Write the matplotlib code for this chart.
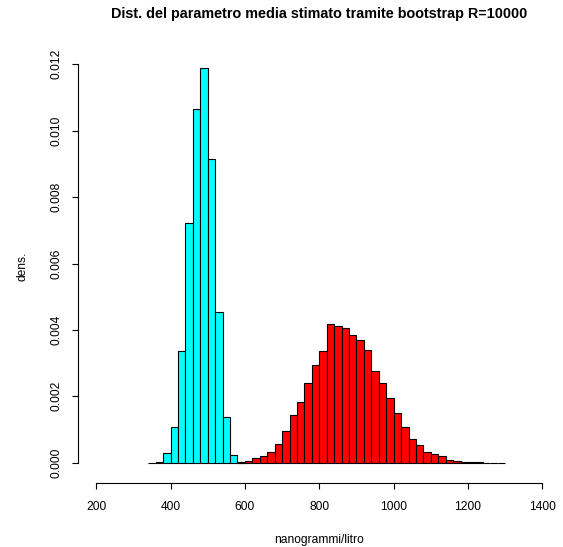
"""
Bootstrap distribution of the mean (R=10000), two samples, R base-graphics look.
"""

import numpy as np
import matplotlib.pyplot as plt


# bins are 20 units wide, left edges given by *_start
cyan_start = 340
cyan_dens = [0.00000, 0.00003, 0.00029, 0.00107, 0.00337, 0.00723, 0.01066,
             0.01190, 0.00915, 0.00453, 0.00139, 0.00023, 0.00002]

red_start = 580
red_dens = [0.00002, 0.00005, 0.00015, 0.00021, 0.00033, 0.00057, 0.00096,
            0.00145, 0.00184, 0.00241, 0.00295, 0.00337, 0.00419, 0.00412,
            0.00406, 0.00386, 0.00370, 0.00340, 0.00277, 0.00241, 0.00196,
            0.00149, 0.00109, 0.00071, 0.00054, 0.00033, 0.00026, 0.00021,
            0.00008, 0.00006, 0.00003, 0.00003, 0.00002, 0.0, 0.0, 0.0]
bin_w = 20

x_ticks = [200, 400, 600, 800, 1000, 1200, 1400]
y_ticks = [0.000, 0.002, 0.004, 0.006, 0.008, 0.010, 0.012]

W, H = 563, 547
FS = 8.64  # 12 px at 100 dpi


def px(x0, y0, x1, y1):
    """figure-pixel box (top-left origin) -> axes rect."""
    return [x0 / W, 1 - y1 / H, (x1 - x0) / W, (y1 - y0) / H]


def draw_hist(ax, start, dens, color):
    dens = np.asarray(dens)
    lefts = start + bin_w * np.arange(len(dens))
    ax.bar(lefts, dens, width=bin_w, align="edge", color=color,
           edgecolor="black", linewidth=0.8)


def main():
    plt.rcParams["font.family"] = ["Liberation Sans", "DejaVu Sans"]
    fig = plt.figure(figsize=(W / 100, H / 100), dpi=100)
    ax = fig.add_axes(px(78.3, 50, 560.3, 483))

    draw_hist(ax, cyan_start, cyan_dens, "#00FFFF")
    draw_hist(ax, red_start, red_dens, "#FF0000")

    # pixel calibration from the reference: 0 at y=462.7, 0.001 per 33.2 px
    ax.set_xlim(152, 1448)
    ax.set_ylim(-(483 - 462.7) / 33200, (462.7 - 50) / 33200)

    for s in ("top", "right"):
        ax.spines[s].set_visible(False)
    ax.spines["left"].set_bounds(y_ticks[0], y_ticks[-1])
    ax.spines["bottom"].set_bounds(x_ticks[0], x_ticks[-1])
    for s in ("left", "bottom"):
        ax.spines[s].set_linewidth(0.8)

    ax.set_xticks(x_ticks)
    ax.set_xticklabels([str(v) for v in x_ticks], fontsize=FS)
    ax.set_yticks(y_ticks)
    ax.set_yticklabels([f"{v:.3f}" for v in y_ticks], fontsize=FS,
                       rotation=90, va="center")
    ax.tick_params(axis="both", length=4.3, width=0.8)
    ax.tick_params(axis="x", pad=8.5)
    ax.tick_params(axis="y", pad=7)

    fig.text(319 / W, 1 - 14 / H,
             "Dist. del parametro media stimato tramite bootstrap R=10000",
             ha="center", va="center", fontsize=10.4, fontweight="bold")
    fig.text(319 / W, 1 - 540 / H, "nanogrammi/litro",
             ha="center", va="center", fontsize=FS)
    fig.text(22 / W, 1 - 266 / H, "dens.", ha="center", va="center",
             rotation=90, fontsize=FS)

    fig.savefig("out.png", dpi=100)
    plt.close(fig)


if __name__ == "__main__":
    main()
